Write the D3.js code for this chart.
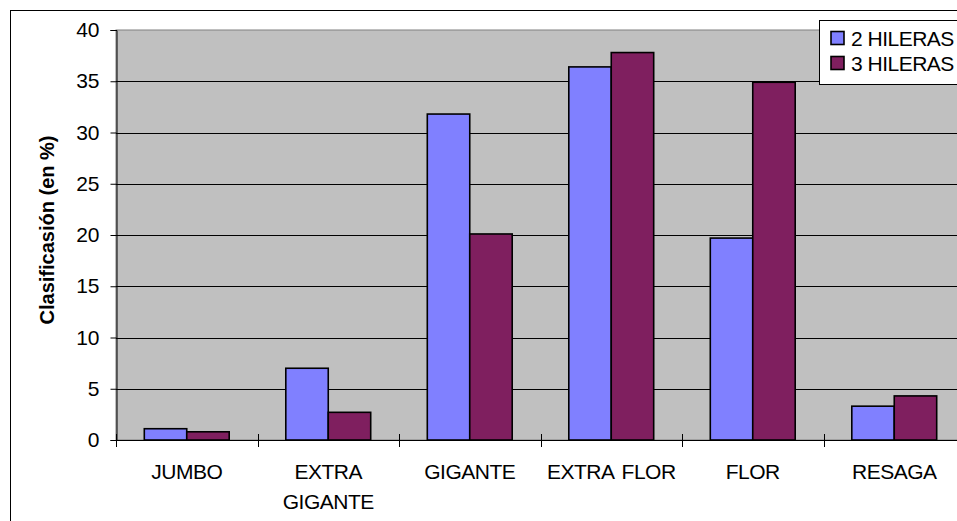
<!DOCTYPE html>
<html>
<head>
<meta charset="utf-8">
<script src="https://cdn.jsdelivr.net/npm/d3@7"></script>
<style>
  html, body { margin: 0; padding: 0; background: #fff; }
  svg { display: block; font-family: Arial, "Liberation Sans", sans-serif; }
</style>
</head>
<body>
<svg id="chart" width="957" height="521"></svg>
<script>
// Classification categories (x axis), one line per label row
const categories = ["JUMBO", "EXTRA GIGANTE", "GIGANTE", "EXTRA FLOR", "FLOR", "RESAGA"];
const categoryLines = [["JUMBO"], ["EXTRA", "GIGANTE"], ["GIGANTE"], ["EXTRA FLOR"], ["FLOR"], ["RESAGA"]];

// Percentages per series
const seriesNames = ["2 HILERAS", "3 HILERAS"];
const hileras2 = [1.1, 7.0, 31.8, 36.4, 19.7, 3.3];
const hileras3 = [0.8, 2.7, 20.1, 37.8, 34.9, 4.3];
const seriesColors = ["#8080ff", "#7f1f5f"];

const yTicks = [0, 5, 10, 15, 20, 25, 30, 35, 40];
const yTitle = "Clasificasión (en %)";

const svg = d3.select("#chart");

// Outer chart frame
svg.append("rect")
  .attr("x", 10.5).attr("y", 10.5)
  .attr("width", 1000).attr("height", 600)
  .attr("fill", "#fff").attr("stroke", "#000").attr("stroke-width", 1);

const plot = { left: 116, top: 30, right: 965, bottom: 440 };

const x = d3.scaleBand()
  .domain(categories)
  .range([plot.left, plot.right])
  .paddingInner(0).paddingOuter(0);

const y = d3.scaleLinear()
  .domain([0, 40])
  .range([plot.bottom, plot.top]);

// Plot area background
svg.append("rect")
  .attr("x", plot.left).attr("y", plot.top)
  .attr("width", plot.right - plot.left).attr("height", plot.bottom - plot.top)
  .attr("fill", "#c0c0c0").attr("stroke", "#808080").attr("stroke-width", 1);

// Horizontal gridlines
svg.append("g")
  .selectAll("line")
  .data(yTicks.filter(t => t > 0 && t < 40))
  .join("line")
  .attr("x1", plot.left).attr("x2", plot.right)
  .attr("y1", d => Math.round(y(d)) + 0.5).attr("y2", d => Math.round(y(d)) + 0.5)
  .attr("stroke", "#000").attr("stroke-width", 1);

// Bars
const groupWidth = x.bandwidth();
const barW = groupWidth * 0.3;
const offset = (groupWidth - 2 * barW) / 2;
const series = [hileras2, hileras3];

series.forEach((vals, si) => {
  svg.append("g")
    .selectAll("rect")
    .data(vals)
    .join("rect")
    .attr("x", (d, i) => x(categories[i]) + offset + si * barW)
    .attr("y", d => y(d))
    .attr("width", barW)
    .attr("height", d => y(0) - y(d))
    .attr("fill", seriesColors[si])
    .attr("stroke", "#000")
    .attr("stroke-width", 1.6);
});

// Y axis
const yAxis = d3.axisLeft(y).tickValues(yTicks).tickSize(6).tickPadding(11);
const yg = svg.append("g")
  .attr("transform", `translate(${plot.left + 0.5},0)`)
  .call(yAxis);
yg.select(".domain").attr("stroke", "#000");
yg.selectAll(".tick line").attr("stroke", "#000");
yg.selectAll(".tick text")
  .attr("fill", "#000")
  .style("font-size", "21px")
  .style("font-family", "Arial, 'Liberation Sans', sans-serif");

// X axis line with crossing category ticks
const xg = svg.append("g");
xg.append("line")
  .attr("x1", plot.left).attr("x2", plot.right)
  .attr("y1", plot.bottom + 0.5).attr("y2", plot.bottom + 0.5)
  .attr("stroke", "#000");
const boundaries = categories.map(c => x(c)).concat([x(categories[categories.length - 1]) + groupWidth]);
xg.selectAll("line.tk")
  .data(boundaries)
  .join("line")
  .attr("class", "tk")
  .attr("x1", d => Math.round(d) + 0.5).attr("x2", d => Math.round(d) + 0.5)
  .attr("y1", plot.bottom - 6).attr("y2", plot.bottom + 7)
  .attr("stroke", "#000");

// Category labels
const lbl = xg.selectAll("text.cat")
  .data(categories)
  .join("text")
  .attr("class", "cat")
  .attr("text-anchor", "middle")
  .attr("fill", "#000")
  .style("font-size", "21px")
  .style("letter-spacing", "-0.5px")
  .style("word-spacing", "3px");
lbl.each(function(d, i) {
  const t = d3.select(this);
  categoryLines[i].forEach((line, li) => {
    t.append("tspan")
      .attr("x", x(d) + groupWidth / 2)
      .attr("y", 478.5 + li * 30)
      .text(line);
  });
});

// Y axis title
svg.append("text")
  .attr("transform", `translate(54,${(plot.top + plot.bottom) / 2 - 5}) rotate(-90)`)
  .attr("text-anchor", "middle")
  .attr("fill", "#000")
  .style("font-size", "20px")
  .style("font-weight", "bold")
  .text(yTitle);

// Legend
const legend = svg.append("g");
legend.append("rect")
  .attr("x", 819.5).attr("y", 20.5)
  .attr("width", 200).attr("height", 64)
  .attr("fill", "#fff").attr("stroke", "#000");
seriesNames.forEach((name, i) => {
  const cy = 38 + i * 25;
  legend.append("rect")
    .attr("x", 831).attr("y", cy - 6.5)
    .attr("width", 13).attr("height", 13)
    .attr("fill", seriesColors[i]).attr("stroke", "#000").attr("stroke-width", 1.6);
  legend.append("text")
    .attr("x", 851).attr("y", cy + 7.5)
    .attr("fill", "#000")
    .style("font-size", "21px")
    .style("letter-spacing", "-0.5px")
    .text(name);
});
</script>
</body>
</html>
